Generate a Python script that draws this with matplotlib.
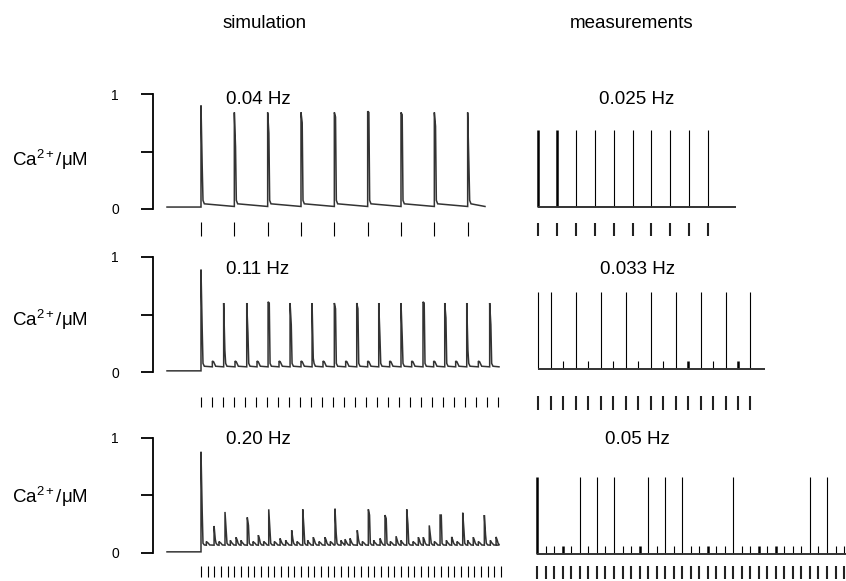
import matplotlib
matplotlib.use("Agg")
import matplotlib.pyplot as plt

plt.rcParams['font.family'] = ['Liberation Sans', 'DejaVu Sans']
plt.rcParams['mathtext.fontset'] = 'custom'
plt.rcParams['mathtext.rm'] = 'Liberation Sans'
plt.rcParams['mathtext.it'] = 'Liberation Sans:italic'

# ---- data (times in s, Ca2+ in uM) ----
col_titles = ["simulation", "measurements"]
sim_freqs = ["0.04 Hz", "0.11 Hz", "0.20 Hz"]
meas_freqs = ["0.025 Hz", "0.033 Hz", "0.05 Hz"]
ylabel = "Ca$^{2+}$/\u03bcM"

# simulation, 0.04 Hz
sim1_stim = [0, 25, 50, 75, 100, 125, 150, 175, 200]
sim1_t = [0, 25, 50, 75, 100, 125, 150, 175, 200]
sim1_peak = [0.90, 0.84, 0.84, 0.84, 0.84, 0.85, 0.84, 0.84, 0.84]
sim1_shoulder = [0.37, 0.54, 0.66, 0.75, 0.80, 0.84, 0.82, 0.72, 0.40]
sim1_levels = (0.017, 0.075, 0.045, 0.022)      # rest, after spike, settled, trough

# simulation, 0.11 Hz
sim2_stim = [0, 8.3, 16.5, 24.8, 33, 41.3, 49.5, 57.8, 66, 74.3, 82.5, 90.8, 99, 107.3,
             115.5, 123.8, 132, 140.3, 148.5, 156.8, 165, 173.3, 181.5, 189.8, 198, 206.3,
             214.5, 222.8]
sim2_t = [0, 8.5, 17, 25.5, 34.3, 42, 50.3, 58.5, 66.8, 75, 83.3, 91.5, 100, 108.5,
          116.8, 125, 133.3, 141.5, 150, 158, 166.5, 174.5, 182.8, 191, 199.3, 208, 216.5]
sim2_peak = [0.89, 0.095, 0.60, 0.095, 0.60, 0.095, 0.61, 0.095, 0.60, 0.095, 0.60, 0.095,
             0.60, 0.095, 0.60, 0.095, 0.60, 0.095, 0.60, 0.095, 0.61, 0.095, 0.60, 0.095,
             0.60, 0.095, 0.60]
sim2_shoulder = [0.37, 0.09, 0.19, 0.09, 0.34, 0.09, 0.60, 0.09, 0.41, 0.09, 0.12, 0.09, 0.55,
                 0.09, 0.55, 0.09, 0.31, 0.09, 0.31, 0.09, 0.60, 0.09, 0.47, 0.09, 0.19, 0.09,
                 0.41]
sim2_levels = (0.01, 0.075, 0.05, 0.045)

# simulation, 0.20 Hz
sim3_stim = [0, 5, 10, 15, 20, 25, 30, 35, 40, 45, 50, 55, 60, 65, 70, 75, 80, 85, 90, 95,
             100, 105, 110, 115, 120, 125, 130, 135, 140, 145, 150, 155, 160, 165, 170, 175,
             180, 185, 190, 195, 200, 205, 210, 215, 220, 225]
sim3_t = [0, 4, 9.8, 13.5, 18, 22, 26.3, 30, 34.7, 39, 43, 47, 50.8, 55, 59.3, 63.5, 68, 72,
          76.3, 80, 84.2, 88.5, 93, 97, 100.5, 105, 108, 111.8, 117.2, 121, 125.5, 129.5,
          134.3, 138, 142, 146.3, 150, 154.3, 159, 163, 166.7, 171.2, 175, 179.3, 184, 188,
          192, 196.3, 200, 204.2, 208, 212.5, 217, 221.3]
sim3_peak = [0.88, 0.10, 0.235, 0.10, 0.357, 0.11, 0.137, 0.11, 0.31, 0.10, 0.155, 0.10, 0.38,
             0.10, 0.127, 0.11, 0.198, 0.10, 0.38, 0.11, 0.137, 0.10, 0.137, 0.10, 0.385, 0.11,
             0.12, 0.127, 0.198, 0.10, 0.38, 0.11, 0.127, 0.33, 0.10, 0.146, 0.11, 0.38, 0.10,
             0.137, 0.137, 0.24, 0.10, 0.33, 0.11, 0.14, 0.10, 0.35, 0.11, 0.137, 0.10, 0.33,
             0.11, 0.14]
sim3_shoulder = [0.36, 0.09, 0.12, 0.09, 0.20, 0.09, 0.11, 0.09, 0.24, 0.09, 0.12, 0.09, 0.20,
                 0.09, 0.10, 0.09, 0.12, 0.09, 0.22, 0.09, 0.11, 0.09, 0.11, 0.09, 0.17, 0.09,
                 0.10, 0.10, 0.12, 0.09, 0.33, 0.09, 0.10, 0.30, 0.09, 0.11, 0.09, 0.25, 0.09,
                 0.11, 0.11, 0.15, 0.09, 0.33, 0.09, 0.11, 0.09, 0.20, 0.09, 0.11, 0.09, 0.16,
                 0.09, 0.11]
sim3_levels = (0.01, 0.085, 0.07, 0.068)

# measurements
meas1_stim = [0, 40, 80, 120, 160, 200, 240, 280, 320, 360]
meas1_amp = [0.67, 0.67, 0.67, 0.67, 0.67, 0.67, 0.67, 0.67, 0.67, 0.67]
meas1_end = 418

meas2_stim = [0, 30, 60, 90, 120, 150, 180, 210, 240, 270, 300, 330, 360, 390, 420, 450,
              480, 510]
meas2_amp = [0.67, 0.67, 0.07, 0.67, 0.07, 0.67, 0.07, 0.67, 0.07, 0.67, 0.07, 0.67, 0.07,
             0.67, 0.07, 0.67, 0.07, 0.67]
meas2_end = 545

meas3_stim = [0, 20, 40, 60, 80, 100, 120, 140, 160, 180, 200, 220, 240, 260, 280, 300,
              320, 340, 360, 380, 400, 420, 440, 460, 480, 500, 520, 540, 560, 580, 600,
              620, 640, 660, 680, 700, 720]
meas3_amp = [0.67, 0.07, 0.07, 0.07, 0.07, 0.67, 0.07, 0.67, 0.07, 0.67, 0.07, 0.07, 0.07,
             0.67, 0.07, 0.67, 0.07, 0.67, 0.07, 0.07, 0.07, 0.07, 0.07, 0.67, 0.07, 0.07,
             0.07, 0.07, 0.07, 0.07, 0.07, 0.07, 0.67, 0.07, 0.67, 0.07, 0.07]
meas3_end = 740

# ---- layout (pixels of the 846x581 figure) ----
W, H = 846, 581
SIM_X0, SIM_SX, SIM_SY = 201, 4 / 3, 115
SIM_Y0 = [209, 372, 553]
MEAS_X0 = [537.7, 538.3, 537.3]
MEAS_SX = [0.474, 0.416, 0.426]
MEAS_Y0 = [207, 369.3, 554]
SIM_TICK_Y = [(-0.235, -0.11), (-0.30, -0.22), (-0.21, -0.11)]
MEAS_TICK_Y = [(-0.25, -0.14), (-0.35, -0.23), (-0.22, -0.10)]
HEAVY = [[0, 1], [12, 16], [0, 3, 12, 20, 26, 28]]
TRACE = '#333333'


def px_axes(fig, x0, y0, sx, sy, xlim, ylim):
    left = x0 + xlim[0] * sx
    right = x0 + xlim[1] * sx
    top = y0 - ylim[1] * sy
    bottom = y0 - ylim[0] * sy
    ax = fig.add_axes([left / W, 1 - bottom / H, (right - left) / W, (bottom - top) / H])
    ax.set_xlim(xlim)
    ax.set_ylim(ylim)
    ax.patch.set_alpha(0)
    return ax


def build_trace(t_start, t_end, levels, times, peaks, shoulders):
    rest, after, settled, trough = levels
    xs, ys = [t_start], [rest]
    for i, t in enumerate(times):
        nxt = times[i + 1] if i + 1 < len(times) else t_end
        base = rest if i == 0 else trough
        xs += [t, t, t + 0.9, t + 1.5, t + 2.5, nxt]
        ys += [base, peaks[i], shoulders[i], after, settled, trough]
    return xs, ys


def ftext(x, y, s, **kw):
    fig.text(x / W, 1 - y / H, s, **kw)


fig = plt.figure(figsize=(W / 100, H / 100), dpi=100)

sims = [
    (sim1_stim, sim1_t, sim1_peak, sim1_shoulder, sim1_levels, 213),
    (sim2_stim, sim2_t, sim2_peak, sim2_shoulder, sim2_levels, 223.5),
    (sim3_stim, sim3_t, sim3_peak, sim3_shoulder, sim3_levels, 222),
]
meas = [
    (meas1_stim, meas1_amp, meas1_end),
    (meas2_stim, meas2_amp, meas2_end),
    (meas3_stim, meas3_amp, meas3_end),
]

for r in range(3):
    stim, t, pk, sh, lev, t_end = sims[r]
    ylo = SIM_TICK_Y[r][0] - 0.05
    ax = px_axes(fig, SIM_X0, SIM_Y0[r], SIM_SX, SIM_SY, (-40, 227), (ylo, 1.05))
    xs, ys = build_trace(-25.5, t_end, lev, t, pk, sh)
    ax.plot(xs, ys, color=TRACE, lw=1.1, solid_joinstyle='miter')
    ax.vlines(stim, SIM_TICK_Y[r][0], SIM_TICK_Y[r][1], color='black', lw=0.8)
    for s in ['top', 'right', 'bottom']:
        ax.spines[s].set_visible(False)
    ax.spines['left'].set_position(('data', -36))
    ax.spines['left'].set_bounds(0, 1)
    ax.spines['left'].set_linewidth(1.3)
    ax.set_xticks([])
    ax.set_yticks([0, 0.5, 1])
    ax.set_yticklabels(['0', '', '1'])
    ax.tick_params(axis='y', length=8.6, width=1.3, pad=16, labelsize=10)

    mstim, amp, mend = meas[r]
    mylo = MEAS_TICK_Y[r][0] - 0.05
    axm = px_axes(fig, MEAS_X0[r], MEAS_Y0[r], MEAS_SX[r], SIM_SY,
                  (-5, mend + 12 if r < 2 else 745), (mylo, 1.05))
    heavy = HEAVY[r]
    lws = [1.8 if i in heavy else 0.8 for i in range(len(mstim))]
    axm.vlines(mstim, 0, amp, colors='black', lw=lws)
    axm.hlines(0, 0, mend, colors='#333333', lw=1.4)
    axm.vlines(mstim, MEAS_TICK_Y[r][0], MEAS_TICK_Y[r][1], colors='#222222', lw=1.5)
    axm.axis('off')

# texts
ftext(265, 23, col_titles[0], ha='center', va='center', fontsize=13.5)
ftext(632, 23, col_titles[1], ha='center', va='center', fontsize=13.5)
for r, (yt, yl) in enumerate([(100, 160), (270, 320), (440, 497)]):
    ftext(258, yt, sim_freqs[r], ha='center', va='center', fontsize=13.5)
    ftext(637, yt, meas_freqs[r], ha='center', va='center', fontsize=13.5)
    ftext(12, yl, ylabel, ha='left', va='center', fontsize=13.5)

fig.savefig('out.png', dpi=100)
